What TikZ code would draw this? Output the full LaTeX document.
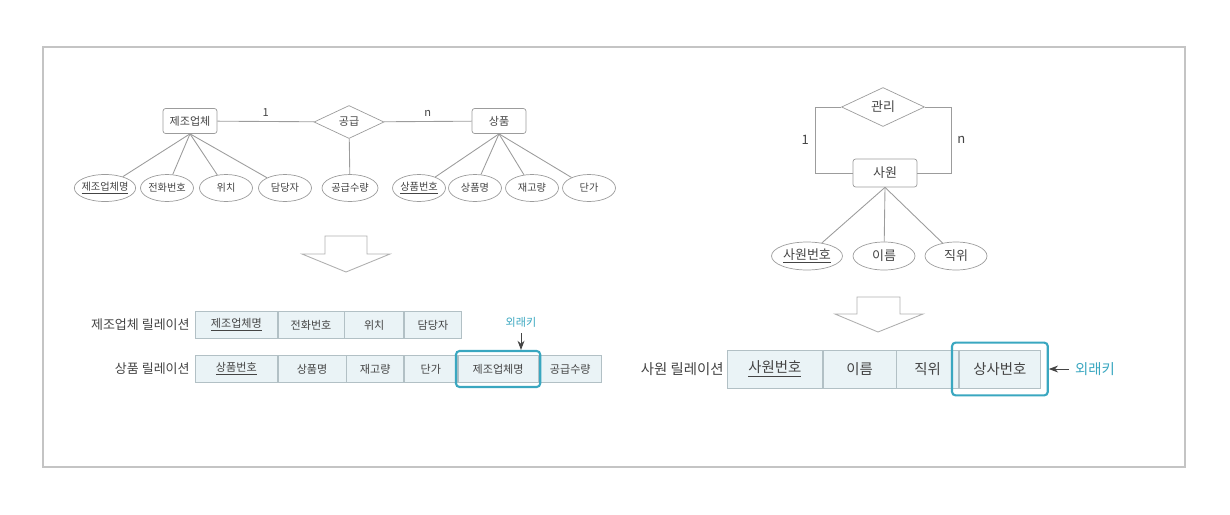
\documentclass[tikz,border=0pt]{standalone}
\usepackage{fontspec}
\setmainfont{Noto Sans CJK KR}
\usetikzlibrary{arrows.meta,shapes.geometric,fit}
\definecolor{lineg}{HTML}{9C9C9C}
\definecolor{txtg}{HTML}{444444}
\definecolor{fkc}{HTML}{3AA7C0}
\definecolor{cellbg}{HTML}{EAF3F6}
\definecolor{cellln}{HTML}{B2C0C5}
\newcommand{\fsm}{\fontsize{6.3}{7}\selectfont}
\newcommand{\fxs}{\fontsize{5.8}{6.5}\selectfont}
\newcommand{\fmd}{\fontsize{7.4}{8}\selectfont}
\newcommand{\flg}{\fontsize{8.2}{9}\selectfont}
\tikzset{>=Stealth,every node/.style={text=txtg},
 ent/.style={draw=lineg,rounded corners=1.5pt,fill=white,minimum width=1.08cm,minimum height=.5cm,inner sep=0pt,font=\fsm},
 rel/.style={draw=lineg,diamond,aspect=2,inner sep=0pt,minimum width=1.4cm,minimum height=.66cm,font=\fsm},
 attr/.style={draw=lineg,ellipse,inner xsep=-1pt,inner ysep=1pt,minimum width=1.06cm,minimum height=.54cm,font=\fxs},
 link/.style={draw=lineg,line width=.5pt},
 cell/.style={draw=cellln,fill=cellbg,anchor=west,inner sep=0pt,minimum height=.53cm,font=\fsm},
 bigcell/.style={cell,minimum height=.76cm,font=\flg},
 fkbox/.style={draw=fkc,line width=1.2pt,rounded corners=2pt},
 fklabel/.style={text=fkc},
 tablename/.style={anchor=east,inner xsep=0pt},
 bigarrow/.style={draw=lineg!80,fill=white,line width=.5pt}}
\begin{document}
\begin{tikzpicture}[x=0.02cm,y=-0.02cm]
\useasboundingbox (0,0) rectangle (1230,514);
\draw[draw=lineg!60,line width=.6pt] (43,47) rectangle (1185,467);
% 제조업체 - 공급 - 상품
\node[ent] (maker) at (190,121) {제조업체};
\node[rel] (supply) at (349,122) {공급};
\node[ent] (goods) at (499,121) {상품};
\draw[link] (maker) -- node[above=-1pt,font=\fsm]{1} (supply);
\draw[link] (supply) -- node[above=-1pt,font=\fsm]{n} (goods);
\node[attr,minimum width=1.2cm] (mname) at (105,188) {\underline{제조업체명}};
\node[attr] (mtel) at (167,188) {전화번호};
\node[attr] (mloc) at (226,188) {위치};
\node[attr] (mman) at (285,188) {담당자};
\node[attr,minimum width=1.12cm] (qty) at (350,188) {공급수량};
\node[attr] (gno) at (419,188) {\underline{상품번호}};
\node[attr] (gname) at (475,188) {상품명};
\node[attr] (gstock) at (532,188) {재고량};
\node[attr] (gprice) at (589,188) {단가};
\foreach \a in {mname,mtel,mloc,mman} \draw[link] (maker.south) -- (\a);
\foreach \a in {gno,gname,gstock,gprice} \draw[link] (goods.south) -- (\a);
\draw[link] (supply) -- (qty);
\draw[bigarrow] (325,236) -- (367,236) -- (367,254) -- (390,254) -- (346,272) -- (302,254) -- (325,254) -- cycle;
% 릴레이션
\node[tablename,font=\fmd] at (190,325) {제조업체 릴레이션};
\node[cell,minimum width=1.64cm] (ra) at (195,325) {\underline{제조업체명}};
\node[cell,minimum width=1.32cm] (rb) at (ra.east) {전화번호};
\node[cell,minimum width=1.18cm] (rc) at (rb.east) {위치};
\node[cell,minimum width=1.14cm] (rd) at (rc.east) {담당자};
\node[tablename,font=\fmd] at (190,369) {상품 릴레이션};
\node[cell,minimum width=1.64cm] (sa) at (195,369) {\underline{상품번호}};
\node[cell,minimum width=1.36cm] (sb) at (sa.east) {상품명};
\node[cell,minimum width=1.14cm] (sc) at (sb.east) {재고량};
\node[cell,minimum width=1.06cm] (sd) at (sc.east) {단가};
\node[cell,minimum width=1.6cm] (se) at (sd.east) {제조업체명};
\node[cell,minimum width=1.26cm] (sf) at (se.east) {공급수량};
\node[fkbox,fit=(se),inner xsep=1pt,inner ysep=2.5pt] (fk1) {};
\node[fklabel,font=\fsm] (fkl1) at (521,322) {외래키};
\draw[->,txtg,line width=.5pt] (fkl1.south) -- (fkl1.south |- fk1.north);
% 사원 - 관리
\node[rel,minimum width=1.66cm,minimum height=.78cm,font=\fmd] (manage) at (883,107) {관리};
\node[ent,minimum width=1.28cm,minimum height=.56cm,font=\fmd] (emp) at (885,173) {사원};
\coordinate (lcorner) at (815,107);
\coordinate (rcorner) at (951,107);
\draw[link] (manage.west) -- (lcorner) |- node[pos=.25,left,font=\fmd]{1} (emp.west);
\draw[link] (manage.east) -- (rcorner) |- node[pos=.25,right,font=\fmd]{n} (emp.east);
\node[attr,minimum width=1.42cm,minimum height=.56cm,font=\fmd] (eno) at (807,256) {\underline{사원번호}};
\node[attr,minimum width=1.24cm,minimum height=.56cm,font=\fmd] (ename) at (884,256) {이름};
\node[attr,minimum width=1.24cm,minimum height=.56cm,font=\fmd] (erank) at (956,256) {직위};
\foreach \a in {eno,ename,erank} \draw[link] (emp.south) -- (\a);
\draw[bigarrow] (857,297) -- (900,297) -- (900,314) -- (923,314) -- (878,332) -- (835,314) -- (857,314) -- cycle;
\node[tablename,font=\flg] at (724,369) {사원 릴레이션};
\node[bigcell,minimum width=1.9cm] (ea) at (727,369) {\underline{사원번호}};
\node[bigcell,minimum width=1.46cm] (eb) at (ea.east) {이름};
\node[bigcell,minimum width=1.24cm] (ec) at (eb.east) {직위};
\node[bigcell,minimum width=1.62cm] (ed) at (ec.east) {상사번호};
\node[fkbox,fit=(ed),inner xsep=4pt,inner ysep=4pt] (fk2) {};
\node[fklabel,font=\flg,anchor=west] (fkl2) at (1069,369) {외래키};
\draw[->,txtg,line width=.5pt] (fkl2.west) -- (fk2.east);
\end{tikzpicture}
\end{document}
